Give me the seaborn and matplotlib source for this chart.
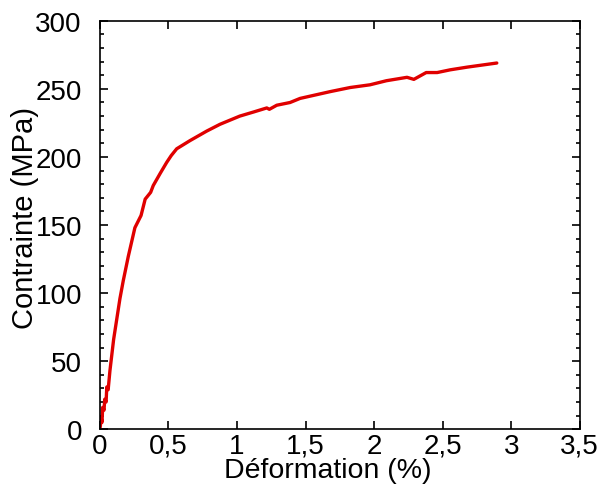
import matplotlib
matplotlib.use('Agg')
import matplotlib.pyplot as plt
import seaborn as sns
import pandas as pd
from matplotlib.ticker import MultipleLocator

# strain (%) and stress (MPa)
strain = [0.0, 0.01, 0.015, 0.02, 0.03, 0.035, 0.045, 0.05, 0.06, 0.073, 0.1, 0.146, 0.17,
          0.207, 0.255, 0.3, 0.33, 0.37, 0.389, 0.44, 0.487, 0.52, 0.56, 0.657, 0.779,
          0.876, 1.02, 1.12, 1.217, 1.236, 1.29, 1.387, 1.46, 1.68, 1.825, 1.97, 2.09,
          2.24, 2.29, 2.38, 2.46, 2.555, 2.68, 2.895]
stress = [0, 8, 5, 16, 14, 22, 20, 31, 29, 43, 66, 96, 109,
          127, 148, 157, 169, 174, 179, 188, 196, 201, 206, 212, 219,
          224, 230, 233, 236, 235, 238, 240, 243, 248, 251, 253, 256,
          258.5, 257, 262, 262, 264, 266, 269]

xtick_vals = [0, 0.5, 1, 1.5, 2, 2.5, 3, 3.5]
xtick_labels = ['0', '0,5', '1', '1,5', '2', '2,5', '3', '3,5']
ytick_vals = [0, 50, 100, 150, 200, 250, 300]

df = pd.DataFrame({'strain': strain, 'stress': stress})

sns.set_style('ticks')
plt.rcParams['font.family'] = ['Liberation Sans', 'DejaVu Sans']
plt.rcParams['text.color'] = 'black'
plt.rcParams['axes.labelcolor'] = 'black'
plt.rcParams['xtick.color'] = 'black'
plt.rcParams['ytick.color'] = 'black'

fig = plt.figure(figsize=(6.02, 4.85), dpi=100)
ax = fig.add_axes([0.166, 0.113, 0.797, 0.842])

sns.lineplot(data=df, x='strain', y='stress', sort=False, color='#e00000',
             linewidth=2.4, ax=ax)

ax.set_xlim(0, 3.5)
ax.set_ylim(0, 300)
ax.set_xticks(xtick_vals)
ax.set_xticklabels(xtick_labels)
ax.set_yticks(ytick_vals)
ax.yaxis.set_minor_locator(MultipleLocator(10))

ax.tick_params(axis='both', which='both', direction='in', top=True, right=True,
               labelsize=20, width=1.2)
ax.tick_params(axis='both', which='major', length=6)
ax.tick_params(axis='both', which='minor', length=3)
ax.tick_params(axis='y', which='major', pad=13)
ax.tick_params(axis='x', which='major', pad=2.5)

for s in ax.spines.values():
    s.set_linewidth(1.2)
    s.set_color('black')

ax.set_xlabel('Déformation (%)', fontsize=20.5)
ax.set_ylabel('Contrainte (MPa)', fontsize=21)
# labels sit a bit off-centre and tight against the tick labels
ax.xaxis.set_label_coords(0.474, -0.068)
ax.yaxis.set_label_coords(-0.127, 0.52)

fig.savefig('out.png', dpi=100)
